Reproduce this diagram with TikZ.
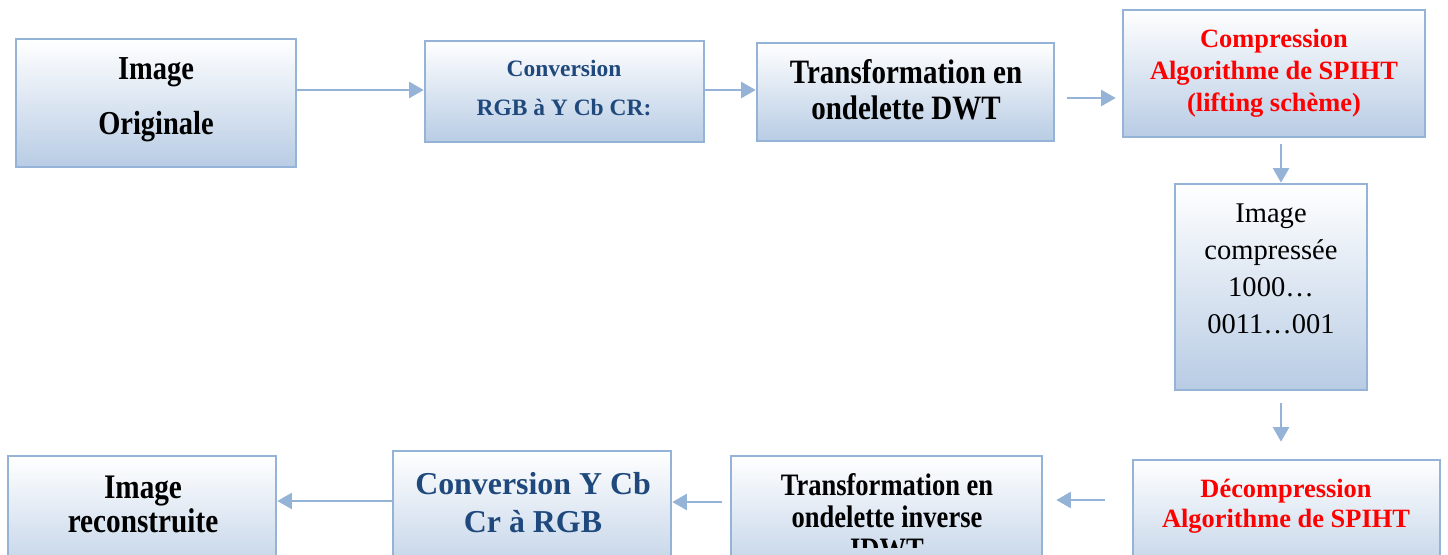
\documentclass[tikz,border=0pt]{standalone}
\usepackage{fontspec}
\setmainfont{Liberation Serif}
\newfontfamily\condfont[FakeStretch=0.85]{Liberation Serif}
\usetikzlibrary{arrows.meta,fit,calc}
\definecolor{edgeblue}{RGB}{149,179,215}
\definecolor{fillblue}{RGB}{184,204,228}
\definecolor{darkblue}{RGB}{31,73,125}
\definecolor{pureRed}{RGB}{255,0,0}
\begin{document}
\begin{tikzpicture}[x=0.75pt,y=-0.75pt,
  box/.style={draw=edgeblue, line width=1.9pt, top color=white, bottom color=fillblue, inner sep=0pt},
  txt/.style={align=center, inner sep=0pt},
  arr/.style={draw=edgeblue, line width=1.9pt, -{Triangle[length=11pt,width=12pt]}}]
\useasboundingbox (0,0) rectangle (1448,554);
\clip (0,0) rectangle (1448,554);
% boxes
\node[box, fit={(16,39) (296,167)}] (b1) {};
\node[box, fit={(425,41) (704,142)}] (b2) {};
\node[box, fit={(757,43) (1054,141)}] (b3) {};
\node[box, fit={(1123,10) (1425,137)}] (b4) {};
\node[box, fit={(1175,184) (1367,390)}] (b5) {};
\node[box, fit={(1133,460) (1440,590)}] (b6) {};
\node[box, fit={(731,456) (1042,590)}] (b7) {};
\node[box, fit={(393,451) (671,590)}] (b8) {};
\node[box, fit={(8,456) (276,590)}] (b9) {};
% texts
\node[txt, font=\condfont\bfseries\fontsize{25.1pt}{41.25pt}\selectfont] (t1) at (156,99.5) {Image\\Originale};
\node[txt, text=darkblue, font=\bfseries\fontsize{17.6pt}{29.25pt}\selectfont] (t2) at (564,88) {Conversion\\RGB à Y Cb CR:};
\node[txt, font=\condfont\bfseries\fontsize{25.6pt}{27pt}\selectfont] (t3) at (906,90) {Transformation en\\ondelette DWT};
\node[txt, text=pureRed, font=\bfseries\fontsize{19.8pt}{24pt}\selectfont] (t4) at (1274,73) {Compression\\Algorithme de SPIHT\\(lifting schème)};
\node[txt, font=\fontsize{21.4pt}{27.75pt}\selectfont] (t5) at (1271,269) {Image\\compressée\\1000…\\0011…001};
\node[txt, text=pureRed, font=\bfseries\fontsize{19.8pt}{22.5pt}\selectfont] (t6) at (1286,506) {Décompression\\Algorithme de SPIHT};
\begin{scope}
\clip (731,456) rectangle (1042,547);
\node[txt, font=\condfont\bfseries\fontsize{23.4pt}{24pt}\selectfont] (t7) at (887,517) {Transformation en\\ondelette inverse\\IDWT};
\end{scope}
\node[txt, text=darkblue, font=\bfseries\fontsize{23.9pt}{28.5pt}\selectfont] (t8) at (533,503) {Conversion Y Cb\\Cr à RGB};
\node[txt, font=\condfont\bfseries\fontsize{25.8pt}{25.5pt}\selectfont] (t9) at (143,504) {Image\\reconstruite};
% row / column references
\coordinate (rowA) at (0,90);
\coordinate (rowB) at (0,98);
\coordinate (colR) at (1281,0);
\coordinate (rowC) at (0,500);
\coordinate (rowD) at (0,502);
\coordinate (rowE) at (0,501);
% connectors
\draw[arr] (b1.east |- rowA) -- (b2.west |- rowA);
\draw[arr] (b2.east |- rowA) -- (b3.west |- rowA);
\draw[arr, shorten <=9pt, shorten >=4.5pt] (b3.east |- rowB) -- (b4.west |- rowB);
\draw[arr, shorten <=4.5pt] (b4.south -| colR) -- (b5.north -| colR);
\draw[arr, shorten <=9pt, shorten >=12.75pt] (b5.south -| colR) -- (b6.north -| colR);
\draw[arr, shorten <=20pt, shorten >=9.75pt] (b6.west |- rowC) -- (b7.east |- rowC);
\draw[arr, shorten <=6pt] (b7.west |- rowD) -- (b8.east |- rowD);
\draw[arr] (b8.west |- rowE) -- (b9.east |- rowE);
\end{tikzpicture}
\end{document}
